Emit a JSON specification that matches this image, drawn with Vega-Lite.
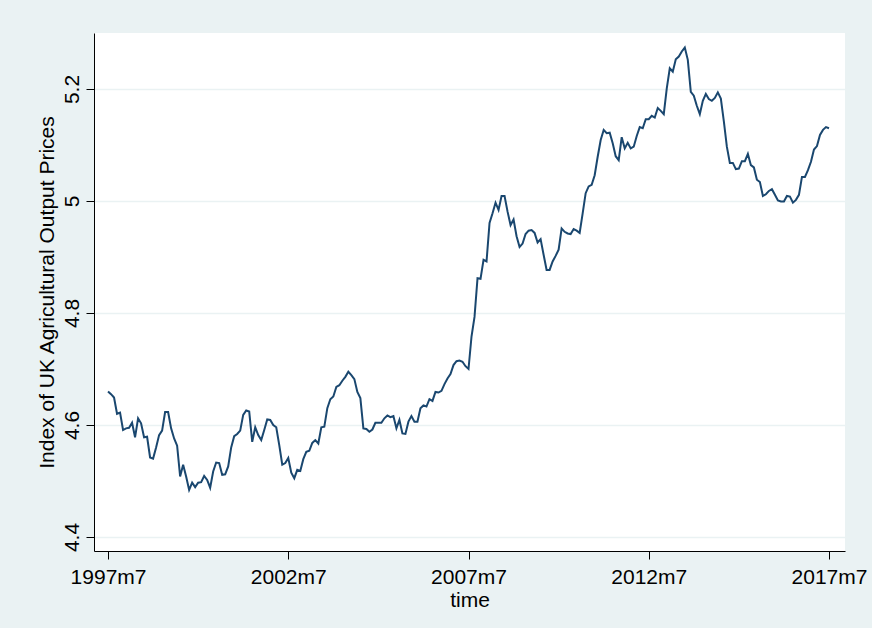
{
  "$schema": "https://vega.github.io/schema/vega-lite/v6.json",
  "description": "Index of UK agricultural output prices, monthly 1997m7-2017m7 (Stata style).",
  "autosize": {"type": "none"},
  "padding": {"left": 94, "top": 33, "right": 27, "bottom": 77},
  "width": 751,
  "height": 518,
  "background": "#eaf2f3",
  "view": {"fill": "white", "stroke": null},
  "config": {
    "font": "Liberation Sans",
    "axis": {
      "labelFont": "Liberation Sans",
      "titleFont": "Liberation Sans",
      "labelFontSize": 21,
      "titleFontSize": 21,
      "labelColor": "black",
      "titleColor": "black",
      "titleFontWeight": "normal",
      "domainColor": "black",
      "tickColor": "black",
      "tickSize": 8,
      "domainWidth": 1,
      "tickWidth": 1
    }
  },
  "data": {
    "values": [
      {"t": 450, "v": 4.660}, {"t": 451, "v": 4.655}, {"t": 452, "v": 4.649}, {"t": 453, "v": 4.620},
      {"t": 454, "v": 4.622}, {"t": 455, "v": 4.591}, {"t": 456, "v": 4.594}, {"t": 457, "v": 4.595},
      {"t": 458, "v": 4.604}, {"t": 459, "v": 4.578}, {"t": 460, "v": 4.612}, {"t": 461, "v": 4.603},
      {"t": 462, "v": 4.578}, {"t": 463, "v": 4.579}, {"t": 464, "v": 4.542}, {"t": 465, "v": 4.540},
      {"t": 466, "v": 4.560}, {"t": 467, "v": 4.582}, {"t": 468, "v": 4.590}, {"t": 469, "v": 4.623},
      {"t": 470, "v": 4.623}, {"t": 471, "v": 4.594}, {"t": 472, "v": 4.576}, {"t": 473, "v": 4.563},
      {"t": 474, "v": 4.508}, {"t": 475, "v": 4.529}, {"t": 476, "v": 4.508}, {"t": 477, "v": 4.484},
      {"t": 478, "v": 4.497}, {"t": 479, "v": 4.489}, {"t": 480, "v": 4.497}, {"t": 481, "v": 4.498},
      {"t": 482, "v": 4.509}, {"t": 483, "v": 4.502}, {"t": 484, "v": 4.488}, {"t": 485, "v": 4.517},
      {"t": 486, "v": 4.533}, {"t": 487, "v": 4.532}, {"t": 488, "v": 4.511}, {"t": 489, "v": 4.512},
      {"t": 490, "v": 4.526}, {"t": 491, "v": 4.560}, {"t": 492, "v": 4.580}, {"t": 493, "v": 4.584},
      {"t": 494, "v": 4.590}, {"t": 495, "v": 4.618}, {"t": 496, "v": 4.626}, {"t": 497, "v": 4.624},
      {"t": 498, "v": 4.570}, {"t": 499, "v": 4.596}, {"t": 500, "v": 4.582}, {"t": 501, "v": 4.573},
      {"t": 502, "v": 4.591}, {"t": 503, "v": 4.610}, {"t": 504, "v": 4.609}, {"t": 505, "v": 4.600},
      {"t": 506, "v": 4.596}, {"t": 507, "v": 4.564}, {"t": 508, "v": 4.529}, {"t": 509, "v": 4.532},
      {"t": 510, "v": 4.541}, {"t": 511, "v": 4.515}, {"t": 512, "v": 4.505}, {"t": 513, "v": 4.520},
      {"t": 514, "v": 4.518}, {"t": 515, "v": 4.539}, {"t": 516, "v": 4.552}, {"t": 517, "v": 4.554},
      {"t": 518, "v": 4.568}, {"t": 519, "v": 4.573}, {"t": 520, "v": 4.567}, {"t": 521, "v": 4.596},
      {"t": 522, "v": 4.597}, {"t": 523, "v": 4.630}, {"t": 524, "v": 4.646}, {"t": 525, "v": 4.651},
      {"t": 526, "v": 4.668}, {"t": 527, "v": 4.671}, {"t": 528, "v": 4.679}, {"t": 529, "v": 4.686},
      {"t": 530, "v": 4.695}, {"t": 531, "v": 4.689}, {"t": 532, "v": 4.682}, {"t": 533, "v": 4.659},
      {"t": 534, "v": 4.648}, {"t": 535, "v": 4.594}, {"t": 536, "v": 4.593}, {"t": 537, "v": 4.588},
      {"t": 538, "v": 4.592}, {"t": 539, "v": 4.604}, {"t": 540, "v": 4.604}, {"t": 541, "v": 4.604},
      {"t": 542, "v": 4.612}, {"t": 543, "v": 4.617}, {"t": 544, "v": 4.614}, {"t": 545, "v": 4.616},
      {"t": 546, "v": 4.594}, {"t": 547, "v": 4.609}, {"t": 548, "v": 4.585}, {"t": 549, "v": 4.584},
      {"t": 550, "v": 4.606}, {"t": 551, "v": 4.616}, {"t": 552, "v": 4.606}, {"t": 553, "v": 4.606},
      {"t": 554, "v": 4.630}, {"t": 555, "v": 4.635}, {"t": 556, "v": 4.633}, {"t": 557, "v": 4.646},
      {"t": 558, "v": 4.643}, {"t": 559, "v": 4.659}, {"t": 560, "v": 4.658}, {"t": 561, "v": 4.661},
      {"t": 562, "v": 4.673}, {"t": 563, "v": 4.683}, {"t": 564, "v": 4.691}, {"t": 565, "v": 4.707},
      {"t": 566, "v": 4.714}, {"t": 567, "v": 4.715}, {"t": 568, "v": 4.713}, {"t": 569, "v": 4.705},
      {"t": 570, "v": 4.700}, {"t": 571, "v": 4.758}, {"t": 572, "v": 4.793}, {"t": 573, "v": 4.862},
      {"t": 574, "v": 4.861}, {"t": 575, "v": 4.895}, {"t": 576, "v": 4.892}, {"t": 577, "v": 4.961},
      {"t": 578, "v": 4.978}, {"t": 579, "v": 4.997}, {"t": 580, "v": 4.984}, {"t": 581, "v": 5.009},
      {"t": 582, "v": 5.009}, {"t": 583, "v": 4.981}, {"t": 584, "v": 4.957}, {"t": 585, "v": 4.967},
      {"t": 586, "v": 4.937}, {"t": 587, "v": 4.918}, {"t": 588, "v": 4.924}, {"t": 589, "v": 4.941},
      {"t": 590, "v": 4.947}, {"t": 591, "v": 4.948}, {"t": 592, "v": 4.943}, {"t": 593, "v": 4.926},
      {"t": 594, "v": 4.932}, {"t": 595, "v": 4.904}, {"t": 596, "v": 4.877}, {"t": 597, "v": 4.877},
      {"t": 598, "v": 4.892}, {"t": 599, "v": 4.902}, {"t": 600, "v": 4.913}, {"t": 601, "v": 4.951},
      {"t": 602, "v": 4.945}, {"t": 603, "v": 4.942}, {"t": 604, "v": 4.941}, {"t": 605, "v": 4.950},
      {"t": 606, "v": 4.947}, {"t": 607, "v": 4.943}, {"t": 608, "v": 4.978}, {"t": 609, "v": 5.014},
      {"t": 610, "v": 5.026}, {"t": 611, "v": 5.029}, {"t": 612, "v": 5.046}, {"t": 613, "v": 5.079},
      {"t": 614, "v": 5.109}, {"t": 615, "v": 5.127}, {"t": 616, "v": 5.121}, {"t": 617, "v": 5.122},
      {"t": 618, "v": 5.103}, {"t": 619, "v": 5.080}, {"t": 620, "v": 5.073}, {"t": 621, "v": 5.114},
      {"t": 622, "v": 5.094}, {"t": 623, "v": 5.104}, {"t": 624, "v": 5.094}, {"t": 625, "v": 5.097},
      {"t": 626, "v": 5.116}, {"t": 627, "v": 5.132}, {"t": 628, "v": 5.130}, {"t": 629, "v": 5.146},
      {"t": 630, "v": 5.146}, {"t": 631, "v": 5.152}, {"t": 632, "v": 5.149}, {"t": 633, "v": 5.166},
      {"t": 634, "v": 5.161}, {"t": 635, "v": 5.155}, {"t": 636, "v": 5.201}, {"t": 637, "v": 5.237},
      {"t": 638, "v": 5.231}, {"t": 639, "v": 5.253}, {"t": 640, "v": 5.258}, {"t": 641, "v": 5.267},
      {"t": 642, "v": 5.274}, {"t": 643, "v": 5.252}, {"t": 644, "v": 5.195}, {"t": 645, "v": 5.188},
      {"t": 646, "v": 5.170}, {"t": 647, "v": 5.155}, {"t": 648, "v": 5.179}, {"t": 649, "v": 5.191},
      {"t": 650, "v": 5.182}, {"t": 651, "v": 5.179}, {"t": 652, "v": 5.184}, {"t": 653, "v": 5.194},
      {"t": 654, "v": 5.183}, {"t": 655, "v": 5.142}, {"t": 656, "v": 5.097}, {"t": 657, "v": 5.068},
      {"t": 658, "v": 5.068}, {"t": 659, "v": 5.057}, {"t": 660, "v": 5.058}, {"t": 661, "v": 5.071},
      {"t": 662, "v": 5.071}, {"t": 663, "v": 5.084}, {"t": 664, "v": 5.064}, {"t": 665, "v": 5.060},
      {"t": 666, "v": 5.038}, {"t": 667, "v": 5.034}, {"t": 668, "v": 5.009}, {"t": 669, "v": 5.012},
      {"t": 670, "v": 5.018}, {"t": 671, "v": 5.021}, {"t": 672, "v": 5.011}, {"t": 673, "v": 5.001},
      {"t": 674, "v": 4.999}, {"t": 675, "v": 4.999}, {"t": 676, "v": 5.009}, {"t": 677, "v": 5.008},
      {"t": 678, "v": 4.997}, {"t": 679, "v": 5.002}, {"t": 680, "v": 5.011}, {"t": 681, "v": 5.043},
      {"t": 682, "v": 5.043}, {"t": 683, "v": 5.055}, {"t": 684, "v": 5.070}, {"t": 685, "v": 5.092},
      {"t": 686, "v": 5.098}, {"t": 687, "v": 5.118}, {"t": 688, "v": 5.127}, {"t": 689, "v": 5.132},
      {"t": 690, "v": 5.130}
    ]
  },
  "mark": {"type": "line", "color": "#1a476f", "strokeWidth": 2, "clip": true},
  "encoding": {
    "x": {
      "field": "t",
      "type": "quantitative",
      "title": "time",
      "scale": {"domain": [445.33, 695.33], "nice": false, "zero": false},
      "axis": {
        "values": [450, 510, 570, 630, 690],
        "labelExpr": "(floor(datum.value / 12) + 1960) + 'm' + (datum.value % 12 + 1)",
        "grid": false,
        "labelPadding": 7,
        "titlePadding": 2,
        "labelFlush": false,
        "labelOverlap": false
      }
    },
    "y": {
      "field": "v",
      "type": "quantitative",
      "title": "Index of UK Agricultural Output Prices",
      "scale": {"domain": [4.375, 5.3], "nice": false, "zero": false},
      "axis": {
        "values": [4.4, 4.6, 4.8, 5.0, 5.2],
        "format": "~g",
        "labelAngle": -90,
        "labelAlign": "center",
        "labelBaseline": "alphabetic",
        "labelPadding": 8,
        "titlePadding": 4,
        "grid": true,
        "gridColor": "#eaf2f3",
        "gridWidth": 1.5,
        "labelFlush": false,
        "labelOverlap": false
      }
    }
  }
}
